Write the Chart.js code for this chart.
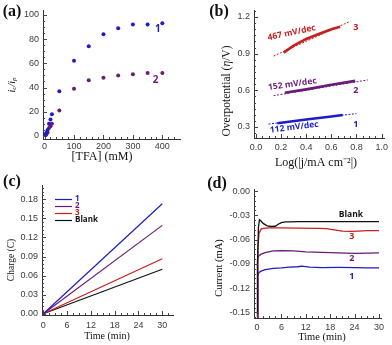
<!DOCTYPE html>
<html>
<head>
<meta charset="utf-8">
<script src="https://cdn.jsdelivr.net/npm/chart.js@4.4.1/dist/chart.umd.min.js"></script>
<style>
  body { margin: 0; background: #fff; width: 392px; height: 345px; position: relative; overflow: hidden; }
  canvas { position: absolute; }
</style>
</head>
<body>
<canvas id="chartA" width="196" height="172" style="left:0;top:0"></canvas>
<canvas id="chartB" width="196" height="172" style="left:196px;top:0"></canvas>
<canvas id="chartC" width="196" height="173" style="left:0;top:172px"></canvas>
<canvas id="chartD" width="196" height="173" style="left:196px;top:172px"></canvas>
<script>
// (a) ic/ip vs [TFA]
const tfa1 = [2.5, 5, 7.5, 10, 15, 20, 25, 50, 100, 150, 200, 250, 300, 350, 400];
const ratio1 = [1, 2, 3, 5, 10, 13.5, 18, 37, 62, 74, 84, 89, 92, 92, 93];
const tfa2 = [2.5, 5, 7.5, 10, 15, 20, 25, 50, 100, 150, 200, 250, 300, 350, 400];
const ratio2 = [0.5, 1, 2, 3, 6.5, 8, 10, 21, 39, 46, 48, 50, 51, 52, 52];

// (b) Tafel plots: measured segments and fitted lines
const logJ3 = [0.22, 0.3, 0.4, 0.5, 0.6, 0.67];
const eta3 = [0.908, 0.965, 1.02, 1.06, 1.1, 1.12];
const fitLogJ3 = [0.14, 0.74];
const fitEta3 = [0.88, 1.16];
const logJ2 = [0.23, 0.4, 0.6, 0.79];
const eta2 = [0.58, 0.608, 0.645, 0.677];
const fitLogJ2 = [0.14, 0.89];
const fitEta2 = [0.556, 0.685];
const logJ1 = [0.17, 0.4, 0.6, 0.69];
const eta1 = [0.33, 0.362, 0.386, 0.398];
const fitLogJ1 = [0.1, 0.8];
const fitEta1 = [0.324, 0.41];
const slopeLabels = ['467 mV/dec', '152 mV/dec', '112 mV/dec'];

// (c) charge vs time
const chargeTime = [0, 30];
const charge1 = [0, 0.173];
const charge2 = [0, 0.139];
const charge3 = [0, 0.0865];
const chargeBlank = [0, 0.070];

// (d) current vs time
const tBlank = [0, 0.15, 0.35, 0.6, 1, 1.5, 2.5, 3.5, 4.5, 5.2, 6, 7, 8, 10, 15, 20, 25, 30];
const iBlank = [-0.156, -0.09, -0.045, -0.0355, -0.037, -0.04, -0.043, -0.0438, -0.0435, -0.041, -0.039, -0.0382, -0.038, -0.0378, -0.0377, -0.0378, -0.0377, -0.0377];
const t3 = [0, 0.2, 0.5, 1, 1.5, 3, 6, 10, 15, 17, 19, 21, 23, 25, 27, 30];
const i3 = [-0.156, -0.07, -0.052, -0.047, -0.046, -0.0455, -0.0455, -0.0458, -0.046, -0.0465, -0.048, -0.0495, -0.0498, -0.0495, -0.049, -0.049];
const t2 = [0, 0.1, 0.3, 1, 2, 4, 6, 9, 12, 16, 20, 24, 27, 30];
const i2 = [-0.156, -0.085, -0.081, -0.078, -0.076, -0.074, -0.0735, -0.074, -0.0752, -0.0757, -0.0765, -0.077, -0.0768, -0.0763];
const t1 = [0, 0.2, 0.5, 1, 2, 4, 6, 8, 10, 11, 13, 16, 20, 24, 27, 30];
const i1 = [-0.156, -0.104, -0.1005, -0.099, -0.097, -0.0955, -0.095, -0.094, -0.0935, -0.0928, -0.094, -0.0945, -0.0943, -0.0945, -0.095, -0.0948];

const BLUE = '#1c1cc8', PURPLE = '#6a1a78', RED = '#c81e1e', BLACK = '#111';
const SERIF = '"Liberation Serif", "Times New Roman", serif';
const SANS = '"Liberation Sans", Arial, sans-serif';
const BOLD = '"Open Sans", sans-serif';

const pts = (xs, ys) => xs.map((x, i) => ({ x: x, y: ys[i] }));

function axis(min, max, step, size, isX, fmt, pad) {
    return {
        type: 'linear', min: min, max: max,
        grid: { display: false, drawTicks: false },
        border: { display: true, color: '#333', width: 1 },
        ticks: {
            stepSize: step, includeBounds: false, autoSkip: false, maxRotation: 0,
            padding: pad, color: '#3a3a3a', font: { family: SANS, size: 9 }, callback: fmt,
        },
        afterFit(sc) { if (isX) sc.height = size; else sc.width = size; },
    };
}

// small inward tick marks, major and minor
function tickPlugin(spec) {
    return {
        id: 'inTicks',
        afterDraw(chart) {
            const ctx = chart.ctx, a = chart.chartArea;
            ctx.save();
            ctx.strokeStyle = '#444';
            ctx.lineWidth = 1;
            ['x', 'y'].forEach(k => {
                const s = spec[k], scale = chart.scales[k];
                const n = Math.round((s.to - s.from) / s.minor);
                for (let i = 0; i <= n; i++) {
                    const v = s.from + i * s.minor;
                    const major = Math.abs(v / s.major - Math.round(v / s.major)) < 1e-6;
                    const len = major ? 4 : 2;
                    const p = Math.round(scale.getPixelForValue(v)) + 0.5;
                    ctx.beginPath();
                    if (k === 'x') { ctx.moveTo(p, a.bottom); ctx.lineTo(p, a.bottom - len); }
                    else { ctx.moveTo(a.left, p); ctx.lineTo(a.left + len, p); }
                    ctx.stroke();
                }
            });
            ctx.restore();
        },
    };
}

// free text: panel letters, axis titles, curve labels
function textPlugin(items) {
    return {
        id: 'notes',
        afterDraw(chart) {
            const ctx = chart.ctx;
            items.forEach(it => {
                let x = it.x, y = it.y;
                if (it.data) {
                    x = chart.scales.x.getPixelForValue(it.x);
                    y = chart.scales.y.getPixelForValue(it.y);
                }
                ctx.save();
                ctx.translate(x, y);
                if (it.rot) ctx.rotate(it.rot * Math.PI / 180);
                ctx.fillStyle = it.color || '#111';
                ctx.textBaseline = 'middle';
                const parts = it.parts || [{ t: it.text, font: it.font }];
                let w = 0;
                parts.forEach(p => { ctx.font = p.font; w += ctx.measureText(p.t).width; });
                let cx = it.align === 'left' ? 0 : -w / 2;
                ctx.textAlign = 'left';
                parts.forEach(p => {
                    ctx.font = p.font;
                    ctx.fillText(p.t, cx, p.dy || 0);
                    cx += ctx.measureText(p.t).width;
                });
                ctx.restore();
            });
        },
    };
}

// legend drawn inside the plot area of (c)
const innerLegend = {
    id: 'innerLegend',
    afterDraw(chart) {
        const ctx = chart.ctx;
        ctx.save();
        chart.data.datasets.forEach((ds, i) => {
            const y = 27 + i * 7;
            ctx.strokeStyle = ds.borderColor;
            ctx.lineWidth = 1.2;
            ctx.beginPath();
            ctx.moveTo(55, y + 0.5);
            ctx.lineTo(72, y + 0.5);
            ctx.stroke();
            ctx.fillStyle = ds.borderColor;
            ctx.font = 'bold 8px ' + BOLD;
            ctx.textBaseline = 'middle';
            ctx.fillText(ds.label, 75, y);
        });
        ctx.restore();
    },
};

const base = (pad) => ({
    responsive: false,
    animation: false,
    layout: { padding: pad },
    plugins: { legend: { display: false }, tooltip: { enabled: false } },
});

// ---------- (a) ----------
new Chart(document.getElementById('chartA').getContext('2d'), {
    type: 'scatter',
    data: {
        datasets: [
            { label: '1', data: pts(tfa1, ratio1), backgroundColor: BLUE, borderColor: BLUE, pointRadius: 2, pointBorderWidth: 0 },
            { label: '2', data: pts(tfa2, ratio2), backgroundColor: PURPLE, borderColor: PURPLE, pointRadius: 2, pointBorderWidth: 0 },
        ],
    },
    options: Object.assign(base({ left: 0, right: 16, top: 10, bottom: 0 }), {
        scales: {
            x: axis(-5.4, 460, 100, 33, true, v => String(v), 2),
            y: axis(-2.5, 104, 20, 43, false, v => String(v), 4),
        },
    }),
    plugins: [
        tickPlugin({ x: { from: 0, to: 440, major: 100, minor: 20 }, y: { from: 0, to: 100, major: 20, minor: 5 } }),
        textPlugin([
            { text: '(a)', x: 12, y: 12, font: 'bold 16px ' + SERIF },
            { text: '[TFA] (mM)', x: 102, y: 157, font: '12px ' + SERIF },
            { x: 12, y: 85, rot: -90, parts: [
                { t: 'i', font: 'italic 10px ' + SERIF },
                { t: 'c', font: 'italic 7px ' + SERIF, dy: 2 },
                { t: '/', font: 'italic 10px ' + SERIF },
                { t: 'i', font: 'italic 10px ' + SERIF },
                { t: 'p', font: 'italic 7px ' + SERIF, dy: 2 },
            ] },
            { text: '1', data: true, x: 385, y: 88.5, color: BLUE, font: 'bold 10px ' + BOLD },
            { text: '2', data: true, x: 377, y: 46, color: PURPLE, font: 'bold 10px ' + BOLD },
        ]),
    ],
});

// ---------- (b) ----------
const thick = (xs, ys, c) => ({ data: pts(xs, ys), borderColor: c, borderWidth: 2.6, pointRadius: 0, showLine: true });
const dashed = (xs, ys, c) => ({ data: pts(xs, ys), borderColor: c, borderWidth: 1, borderDash: [2, 1.5], pointRadius: 0, showLine: true });
new Chart(document.getElementById('chartB').getContext('2d'), {
    type: 'scatter',
    data: {
        datasets: [
            dashed(fitLogJ3, fitEta3, RED), thick(logJ3, eta3, RED),
            dashed(fitLogJ2, fitEta2, PURPLE), thick(logJ2, eta2, PURPLE),
            dashed(fitLogJ1, fitEta1, BLUE), thick(logJ1, eta1, BLUE),
        ],
    },
    options: Object.assign(base({ left: 0, right: 5, top: 10, bottom: 0 }), {
        scales: {
            x: axis(-0.0156, 1.023, 0.2, 34, true, v => v.toFixed(1), 4),
            y: axis(0.21, 1.257, 0.3, 58, false, v => v.toFixed(1), 4),
        },
    }),
    plugins: [
        tickPlugin({ x: { from: 0, to: 1, major: 0.2, minor: 0.05 }, y: { from: 0.25, to: 1.25, major: 0.3, minor: 0.05 } }),
        textPlugin([
            { text: '(b)', x: 23, y: 12, font: 'bold 16px ' + SERIF },
            { text: 'Log(|j/mA cm\u207B\u00B2|)', x: 120, y: 163, font: '12px ' + SERIF },
            { x: 31, y: 91, rot: -90, parts: [
                { t: 'Overpotential (', font: '11.5px ' + SERIF },
                { t: '\u03B7', font: 'italic 11.5px ' + SERIF },
                { t: '/V)', font: '11.5px ' + SERIF },
            ] },
            { text: slopeLabels[0], data: true, x: 0.284, y: 1.07, rot: -12, color: RED, font: 'bold 8.5px ' + BOLD },
            { text: slopeLabels[1], data: true, x: 0.29, y: 0.65, rot: -8, color: PURPLE, font: 'bold 8.5px ' + BOLD },
            { text: slopeLabels[2], data: true, x: 0.305, y: 0.298, rot: -7, color: BLUE, font: 'bold 8.5px ' + BOLD },
            { text: '3', data: true, x: 0.795, y: 1.116, color: RED, font: 'bold 9px ' + BOLD },
            { text: '2', data: true, x: 0.795, y: 0.597, color: PURPLE, font: 'bold 9px ' + BOLD },
            { text: '1', data: true, x: 0.795, y: 0.317, color: BLUE, font: 'bold 9px ' + BOLD },
        ]),
    ],
});

// ---------- (c) ----------
const line = (label, xs, ys, c, w) => ({ label: label, data: pts(xs, ys), borderColor: c, borderWidth: w || 1.2, pointRadius: 0, showLine: true });
new Chart(document.getElementById('chartC').getContext('2d'), {
    type: 'scatter',
    data: {
        datasets: [
            line('1', chargeTime, charge1, BLUE),
            line('2', chargeTime, charge2, PURPLE),
            line('3', chargeTime, charge3, RED),
            line('Blank', chargeTime, chargeBlank, BLACK),
        ],
    },
    options: Object.assign(base({ left: 0, right: 23, top: 13, bottom: 0 }), {
        scales: {
            x: axis(-0.33, 32.7, 6, 30, true, v => String(v), 5),
            y: axis(-0.0019, 0.2025, 0.03, 42, false, v => v.toFixed(2), 4),
        },
    }),
    plugins: [
        tickPlugin({ x: { from: 0, to: 31.5, major: 6, minor: 1.5 }, y: { from: 0, to: 0.198, major: 0.03, minor: 0.006 } }),
        innerLegend,
        textPlugin([
            { text: '(c)', x: 12, y: 10, font: 'bold 16px ' + SERIF },
            { text: 'Time (min)', x: 107, y: 164, font: '10px ' + SERIF },
            { text: 'Charge (C)', x: 11, y: 88, rot: -90, font: '9.5px ' + SERIF },
        ]),
    ],
});

// ---------- (d) ----------
new Chart(document.getElementById('chartD').getContext('2d'), {
    type: 'scatter',
    data: {
        datasets: [
            line('Blank', tBlank, iBlank, BLACK, 1.3),
            line('3', t3, i3, RED, 1.3),
            line('2', t2, i2, PURPLE, 1.3),
            line('1', t1, i1, BLUE, 1.3),
        ],
    },
    options: Object.assign(base({ left: 0, right: 11, top: 17, bottom: 0 }), {
        scales: {
            x: axis(-0.74, 30.5, 6, 27, true, v => String(v), 4),
            y: axis(-0.1568, 0.0025, 0.03, 58, false, v => v.toFixed(2), 4),
        },
    }),
    plugins: [
        tickPlugin({ x: { from: 0, to: 30, major: 6, minor: 1.5 }, y: { from: -0.156, to: 0, major: 0.03, minor: 0.006 } }),
        textPlugin([
            { text: '(d)', x: 21, y: 12, font: 'bold 16px ' + SERIF },
            { text: 'Time (min)', x: 126, y: 165, font: '10.5px ' + SERIF },
            { text: 'Current (mA)', x: 23, y: 96, rot: -90, font: '10.5px ' + SERIF },
            { text: 'Blank', data: true, x: 23.1, y: -0.0296, color: BLACK, font: 'bold 8.5px ' + BOLD },
            { text: '3', data: true, x: 23.3, y: -0.0564, color: RED, font: 'bold 9px ' + BOLD },
            { text: '2', data: true, x: 23.3, y: -0.083, color: PURPLE, font: 'bold 9px ' + BOLD },
            { text: '1', data: true, x: 23.3, y: -0.106, color: BLUE, font: 'bold 9px ' + BOLD },
        ]),
    ],
});
</script>
</body>
</html>
